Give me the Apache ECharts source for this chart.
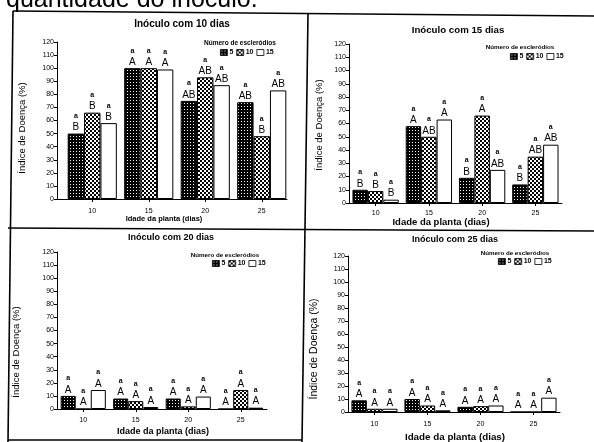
<!DOCTYPE html>
<html>
<head>
<meta charset="utf-8">
<script src="https://cdn.jsdelivr.net/npm/echarts@6/dist/echarts.min.js"></script>
<style>
html,body{margin:0;padding:0;background:#fff;}
#chart{width:594px;height:442px;}
</style>
</head>
<body>
<div id="chart"></div>
<script>
// ---- data ----
const categories = ['10', '15', '20', '25'];          // Idade da planta (dias)
const sclerotiaNames = ['5', '10', '15'];             // Número de escleródios
const yMin = 0, yMax = 120, yStep = 10;

// Inóculo com 10 dias
const inoc10_s5  = [50, 100, 75, 74];
const inoc10_s10 = [66, 100, 93, 48];
const inoc10_s15 = [58, 99, 87, 83];
const inoc10_up5  = ['B', 'A', 'AB', 'AB'];
const inoc10_up10 = ['B', 'A', 'AB', 'B'];
const inoc10_up15 = ['B', 'A', 'AB', 'AB'];

// Inóculo com 15 dias
const inoc15_s5  = [10, 58, 19, 14];
const inoc15_s10 = [9, 50, 66, 35];
const inoc15_s15 = [2.5, 63, 25, 44];
const inoc15_up5  = ['B', 'A', 'B', 'B'];
const inoc15_up10 = ['B', 'AB', 'A', 'AB'];
const inoc15_up15 = ['B', 'A', 'AB', 'AB'];

// Inóculo com 20 dias
const inoc20_s5  = [10, 8, 8, 0];
const inoc20_s10 = [0, 6, 2, 14.5];
const inoc20_s15 = [14.5, 1.5, 9.5, 1];
const inoc20_up5  = ['A', 'A', 'A', 'A'];
const inoc20_up10 = ['A', 'A', 'A', 'A'];
const inoc20_up15 = ['A', 'A', 'A', 'A'];

// Inóculo com 25 dias
const inoc25_s5  = [9, 10, 4, 0];
const inoc25_s10 = [2.5, 5, 4.5, 0];
const inoc25_s15 = [2.5, 1.3, 5, 11];
const inoc25_up5  = ['A', 'A', 'A', 'A'];
const inoc25_up10 = ['A', 'A', 'A', 'A'];
const inoc25_up15 = ['A', 'A', 'A', 'A'];

const lowerLetters = ['a', 'a', 'a', 'a'];

// ---- styles ----
const FONT = '"Liberation Sans", Arial, Helvetica, sans-serif';

function pattern(kind) {
  const c = document.createElement('canvas');
  const g = c.getContext('2d');
  if (kind === 'dark') {
    c.width = 3; c.height = 3;
    g.fillStyle = '#000'; g.fillRect(0, 0, 3, 3);
    g.fillStyle = '#fff'; g.fillRect(1, 1, 1, 1);
  } else {
    c.width = 4; c.height = 4;
    g.fillStyle = '#fff'; g.fillRect(0, 0, 4, 4);
    g.fillStyle = '#000'; g.fillRect(0, 0, 2, 2); g.fillRect(2, 2, 2, 2);
  }
  return { image: c, repeat: 'repeat' };
}
const fills = [pattern('dark'), pattern('check'), '#fff'];

function barSeries(axisIdx, name, fill, values, upper, gap) {
  return {
    type: 'bar', name: name,
    xAxisIndex: axisIdx, yAxisIndex: axisIdx,
    data: values,
    barGap: '0%', barCategoryGap: gap,
    itemStyle: { color: fill, borderColor: '#000', borderWidth: 1 },
    label: {
      show: true, position: 'top', distance: 1, color: '#000',
      formatter: p => '{l|' + lowerLetters[p.dataIndex] + '}\n{u|' + upper[p.dataIndex] + '}',
      rich: {
        l: { fontFamily: FONT, fontSize: 7, fontWeight: 'bold', lineHeight: 13, color: '#000' },
        u: { fontFamily: FONT, fontSize: 10, lineHeight: 10, color: '#000' }
      }
    }
  };
}

const panels = [
  { s: [inoc10_s5, inoc10_s10, inoc10_s15], up: [inoc10_up5, inoc10_up10, inoc10_up15], gap: '13%' },
  { s: [inoc15_s5, inoc15_s10, inoc15_s15], up: [inoc15_up5, inoc15_up10, inoc15_up15], gap: '13%' },
  { s: [inoc20_s5, inoc20_s10, inoc20_s15], up: [inoc20_up5, inoc20_up10, inoc20_up15], gap: '14%' },
  { s: [inoc25_s5, inoc25_s10, inoc25_s15], up: [inoc25_up5, inoc25_up10, inoc25_up15], gap: '13%' }
];

const grids = [
  { left: 64, right: 304, top: 42, bottom: 243 },
  { left: 349, right: 32, top: 44, bottom: 239 },
  { left: 57, right: 327, top: 252, bottom: 33 },
  { left: 348, right: 34, top: 256, bottom: 30 },
  { left: 57, right: 307, top: 42, bottom: 243 } // frame line for panel 1 x axis
];
const xLabelMargins = [9, 7, 8, 9];

const xAxes = [0, 1, 2, 3].map(i => ({
  type: 'category', gridIndex: i, data: categories,
  axisLine: { show: i !== 0, lineStyle: { color: '#000', width: 1 } },
  axisTick: { show: true, alignWithLabel: true, length: 3, lineStyle: { color: '#000' } },
  axisLabel: { color: '#000', fontFamily: FONT, fontSize: 7, margin: xLabelMargins[i] }
}));
xAxes.push({
  type: 'value', gridIndex: 4, min: 0, max: 1,
  axisLine: { show: true, lineStyle: { color: '#000', width: 1 } },
  axisTick: { show: false }, axisLabel: { show: false }, splitLine: { show: false }
});

const yAxes = [0, 1, 2, 3].map(i => ({
  type: 'value', gridIndex: i, min: yMin, max: yMax, interval: yStep,
  offset: i === 0 ? 7 : 0,
  axisLine: { show: true, lineStyle: { color: '#000', width: 1 } },
  axisTick: { show: true, length: 3, lineStyle: { color: '#000' } },
  axisLabel: { color: '#000', fontFamily: FONT, fontSize: 7, margin: 3 },
  splitLine: { show: false }
}));
yAxes.push({ type: 'value', gridIndex: 4, show: false, min: 0, max: 1 });

const series = [];
panels.forEach((p, i) => {
  for (let k = 0; k < 3; k++) {
    series.push(barSeries(i, sclerotiaNames[k], fills[k], p.s[k], p.up[k], p.gap));
  }
});

const legendPos = [
  { left: 220, top: 49 }, { left: 510, top: 53 }, { left: 212, top: 260 }, { left: 498, top: 258 }
];
const legends = legendPos.map(pos => ({
  left: pos.left, top: pos.top, orient: 'horizontal', icon: 'rect',
  data: sclerotiaNames, itemWidth: 7, itemHeight: 6, itemGap: 3, padding: 0,
  selectedMode: false,
  itemStyle: { borderColor: '#000', borderWidth: 0.8 },
  textStyle: { color: '#000', fontFamily: FONT, fontSize: 7, fontWeight: 'bold', padding: [0, 0, 0, -3] }
}));

function txt(x, y, s, size, weight, opts) {
  return Object.assign({
    type: 'text', x: x, y: y, silent: true,
    style: { text: s, fill: '#000', font: (weight || 'normal') + ' ' + size + 'px ' + FONT,
             align: 'center', verticalAlign: 'middle' }
  }, opts || {});
}
function rtxt(x, y, s, size, weight) {
  const t = txt(x, y, s, size, weight);
  t.rotation = Math.PI / 2;
  return t;
}
function ln(x1, y1, x2, y2, w) {
  return { type: 'line', silent: true, shape: { x1, y1, x2, y2 }, style: { stroke: '#000', lineWidth: w || 1.5 } };
}

const graphic = [
  // cut-off heading at the very top
  { type: 'text', x: 6, y: 0, silent: true,
    style: { text: 'quantidade do inóculo.', fill: '#000', font: 'normal 25px ' + FONT, align: 'left', verticalAlign: 'middle' } },
  // frame lines
  ln(13, 11, 594, 16, 1.6),
  ln(13, 11, 8, 442, 1.6),
  ln(8, 228, 594, 231, 1.6),
  ln(308, 14, 302, 442, 1.6),
  ln(8, 440, 302, 440, 1.6),
  // panel titles
  txt(182, 24, 'Inóculo com 10 dias', 10, 'bold'),
  txt(458, 30, 'Inóculo com 15 dias', 9.7, 'bold'),
  txt(171, 238, 'Inóculo com 20 dias', 9, 'bold'),
  txt(455, 240, 'Inóculo com 25 dias', 9, 'bold'),
  // legend headings
  txt(240, 43, 'Número de escleródios', 6.5, 'bold'),
  txt(520, 47, 'Número de escleródios', 6.2, 'bold'),
  txt(225, 255, 'Número de escleródios', 6.2, 'bold'),
  txt(515, 253, 'Número de escleródios', 6.2, 'bold'),
  // x axis names
  txt(164, 219, 'Idade da planta (dias)', 7.5, 'bold'),
  txt(441, 222, 'Idade da planta (dias)', 9.5, 'bold'),
  txt(163, 432, 'Idade da planta (dias)', 9, 'bold'),
  txt(455, 437, 'Idade da planta (dias)', 9.8, 'bold'),
  // y axis names
  rtxt(22, 128, 'Índice de Doença (%)', 9.5),
  rtxt(319, 125, 'Índice de Doença (%)', 9.5),
  rtxt(16, 352, 'Índice de Doença (%)', 9.5),
  rtxt(314, 349, 'Índice de Doença (%)', 10.5)
];

const chart = echarts.init(document.getElementById('chart'), null, { renderer: 'canvas' });
chart.setOption({
  backgroundColor: '#fff',
  animation: false,
  textStyle: { fontFamily: FONT, color: '#000' },
  grid: grids,
  xAxis: xAxes,
  yAxis: yAxes,
  legend: legends,
  series: series,
  graphic: graphic
});
</script>
</body>
</html>
